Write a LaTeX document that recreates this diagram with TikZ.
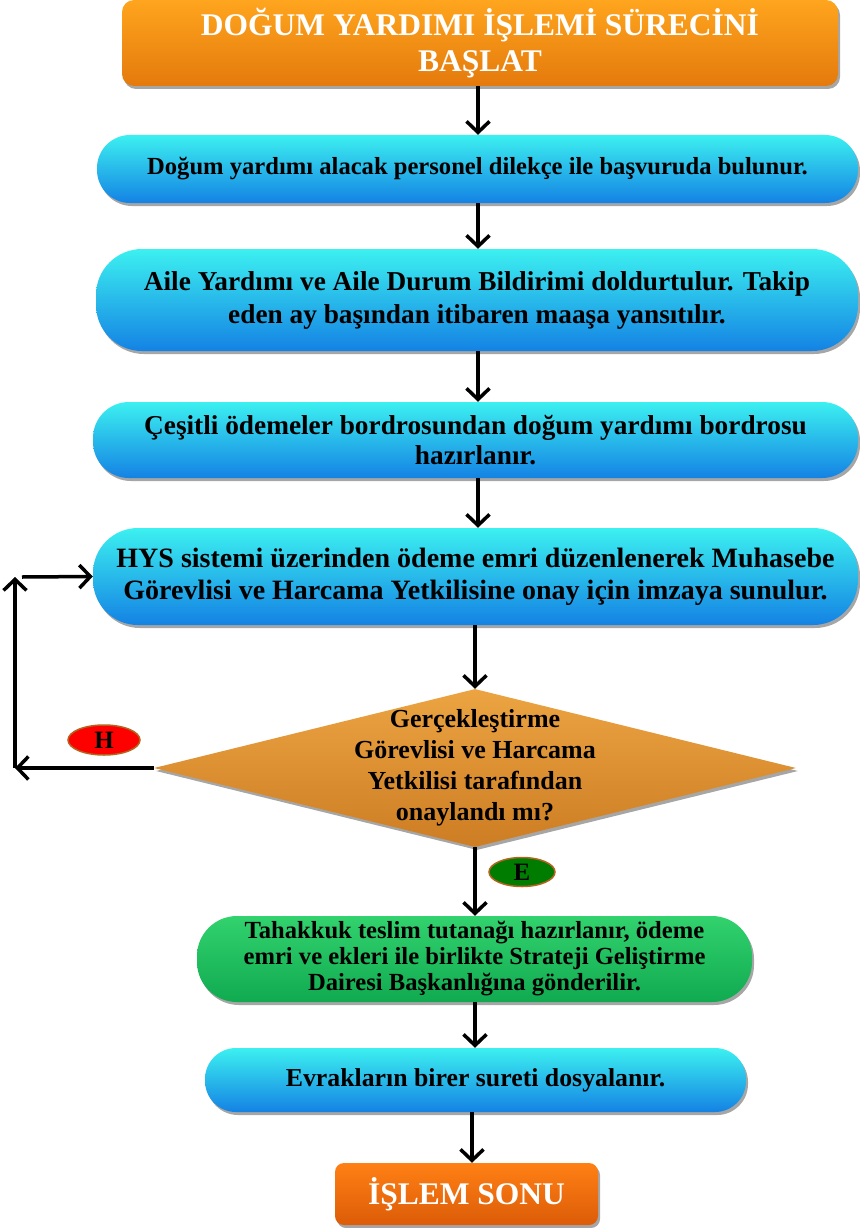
\documentclass[tikz,border=0pt]{standalone}
\usepackage{fontspec}
\setmainfont{Liberation Serif}
\usetikzlibrary{shapes.geometric,arrows.meta,shadows}
\definecolor{orTop}{RGB}{255,165,30}
\definecolor{orBot}{RGB}{228,122,12}
\definecolor{endTop}{RGB}{255,128,20}
\definecolor{endBot}{RGB}{220,92,8}
\definecolor{blTop}{RGB}{60,240,240}
\definecolor{blBot}{RGB}{20,130,228}
\definecolor{grTop}{RGB}{50,210,110}
\definecolor{grBot}{RGB}{16,170,80}
\definecolor{diTop}{RGB}{236,164,66}
\definecolor{diBot}{RGB}{205,125,35}
\definecolor{ovBrd}{RGB}{180,100,30}
\definecolor{eGreen}{RGB}{0,125,0}
\tikzset{
  shad/.style={drop shadow={shadow xshift=2pt,shadow yshift=-3pt,opacity=0.35,fill=black}},
  startbox/.style={shad,top color=orTop,bottom color=orBot,rounded corners=12pt,
    text=white,font=\bfseries\fontsize{31.5}{36}\selectfont,align=center,inner sep=0pt},
  endbox/.style={shad,top color=endTop,bottom color=endBot,rounded corners=9pt,
    text=white,font=\bfseries\fontsize{31.5}{36}\selectfont,align=center,inner sep=0pt},
  pill/.style={shad,top color=blTop,bottom color=blBot,rounded corners=32pt,
    align=center,inner sep=0pt},
  gpill/.style={shad,top color=grTop,bottom color=grBot,rounded corners=32pt,
    align=center,inner sep=0pt},
  arr/.style={line width=3.5pt,-{Straight Barb[length=11pt,width=23pt]}},
  ovl/.style={ellipse,draw=ovBrd,line width=1.5pt,inner sep=0pt,font=\bfseries\fontsize{25}{26}\selectfont}
}
\begin{document}
\begin{tikzpicture}[x=1pt,y=-1pt]
\useasboundingbox (0,0) rectangle (859,1228);
\node[startbox,minimum width=716,minimum height=86] (start) at (480,43)
  {DOĞUM YARDIMI İŞLEMİ SÜRECİNİ\\BAŞLAT};
\node[pill,rounded corners=33pt,minimum width=761,minimum height=68,font=\bfseries\fontsize{24.6}{28}\selectfont] (b1) at (477.5,169)
  {Doğum yardımı alacak personel dilekçe ile başvuruda bulunur.};
\node[pill,rounded corners=46pt,minimum width=762,minimum height=102,font=\bfseries\fontsize{27.3}{33}\selectfont] (b2) at (477,300)
  {Aile Yardımı ve Aile Durum Bildirimi doldurtulur. Takip\\eden ay başından itibaren maaşa yansıtılır.};
\node[pill,rounded corners=36pt,minimum width=765,minimum height=76,font=\bfseries\fontsize{27.3}{30}\selectfont] (b3) at (475.5,440)
  {Çeşitli ödemeler bordrosundan doğum yardımı bordrosu\\hazırlanır.};
\node[pill,rounded corners=45pt,minimum width=765,minimum height=97,font=\bfseries\fontsize{28}{32}\selectfont] (b4) at (475.5,576.5)
  {HYS sistemi üzerinden ödeme emri düzenlenerek Muhasebe\\Görevlisi ve Harcama Yetkilisine onay için imzaya sunulur.};
\node[diamond,shad,top color=diTop,bottom color=diBot,inner sep=0pt,minimum width=642,minimum height=158] (dia) at (475,768) {};
\node[align=center,inner sep=0pt,font=\bfseries\fontsize{26}{31}\selectfont] (diat) at (dia.center)
  {Gerçekleştirme\\Görevlisi ve Harcama\\Yetkilisi tarafından\\onaylandı mı?};
\node[gpill,rounded corners=40pt,minimum width=555,minimum height=86,font=\bfseries\fontsize{24.6}{26}\selectfont] (g) at (474.5,959)
  {Tahakkuk teslim tutanağı hazırlanır, ödeme\\emri ve ekleri ile birlikte Strateji Geliştirme\\Dairesi Başkanlığına gönderilir.};
\node[pill,rounded corners=31pt,minimum width=541,minimum height=64,font=\bfseries\fontsize{25.8}{28}\selectfont] (ev) at (475.5,1080)
  {Evrakların birer sureti dosyalanır.};
\node[endbox,minimum width=263,minimum height=62] (end) at (466.5,1194) {İŞLEM SONU};
\node[ovl,fill=red,minimum width=72,minimum height=30] (H) at (104,740) {H};
\node[ovl,fill=eGreen,minimum width=66,minimum height=29] (E) at (522,872) {E};
\coordinate (hl) at (15,768);
\coordinate (hu) at (15,577);
\coordinate (hr) at (22,577);
\draw[arr] (start.south -| 478,0) -- (478,0 |- b1.north);
\draw[arr] (b1.south -| 478,0) -- (478,0 |- b2.north);
\draw[arr] (b2.south -| 478,0) -- (478,0 |- b3.north);
\draw[arr] (b3.south -| 478,0) -- (478,0 |- b4.north);
\draw[arr] (b4.south -| dia.north) -- (dia.north);
\draw[arr] (dia.south) -- (dia.south |- g.north);
\draw[arr] (g.south -| 475,0) -- (475,0 |- ev.north);
\draw[arr] (ev.south -| 472,0) -- (472,0 |- end.north);
\draw[arr] (dia.west) -- (hl);
\draw[arr] (hl) -- (hu);
\draw[arr] (hr) -- (b4.west);
\end{tikzpicture}
\end{document}
